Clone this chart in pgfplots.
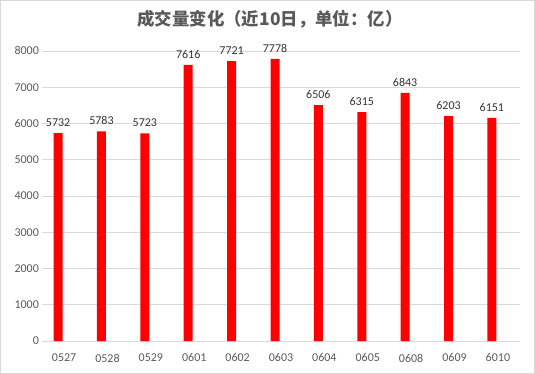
\documentclass[border=0pt]{standalone}
\usepackage{pgfplots}
\pgfplotsset{compat=1.18}
\usepackage{fontspec}
\setmainfont{Carlito}
\newfontfamily\cjk{Noto Sans CJK SC}
\definecolor{tickgray}{HTML}{595959}
\definecolor{gridgray}{HTML}{D9D9D9}
\definecolor{titlegray}{HTML}{595959}
\begin{document}
\begin{tikzpicture}[x=1pt,y=1pt]
\draw[gridgray, line width=0.8pt] (0.5,0.5) rectangle (534.5,373.5);
\node[font=\cjk\bfseries\fontsize{17.4}{20}\selectfont, text=titlegray] at (270,374-19) {成交量变化（近10日，单位：亿）};
\begin{axis}[
  at={(42.5pt,33pt)}, anchor=south west,
  scale only axis, width=477pt, height=290pt,
  xmin=-0.5, xmax=10.5, ymin=0, ymax=8000,
  ytick={0,1000,...,8000},
  xtick={0,...,10},
  xticklabels={0527,0528,0529,0601,0602,0603,0604,0605,0608,0609,6010},
  axis line style={draw=none},
  axis x line*=bottom,
  x axis line style={draw=gridgray},
  tick style={draw=none},
  ymajorgrids, grid style={gridgray, line width=0.8pt},
  ticklabel style={font=\fontsize{12}{14}\selectfont, text=tickgray},
  /pgf/number format/assume math mode=true,
  yticklabel style={/pgf/number format/1000 sep={}},
  yticklabel={\pgfmathprintnumber[1000 sep={},assume math mode=true]{\tick}},
  xticklabel style={yshift=-5pt},
  ybar, bar width=9pt, bar shift=-6pt,
  nodes near coords,
  nodes near coords style={font=\fontsize{12}{14}\selectfont, text=black!80, /pgf/number format/1000 sep={}, yshift=3pt},
]
\addplot[fill=red, draw=none] coordinates {
(0,5732) (1,5783) (2,5723) (3,7616) (4,7721) (5,7778) (6,6506) (7,6315) (8,6843) (9,6203) (10,6151)};
\end{axis}
\end{tikzpicture}
\end{document}
